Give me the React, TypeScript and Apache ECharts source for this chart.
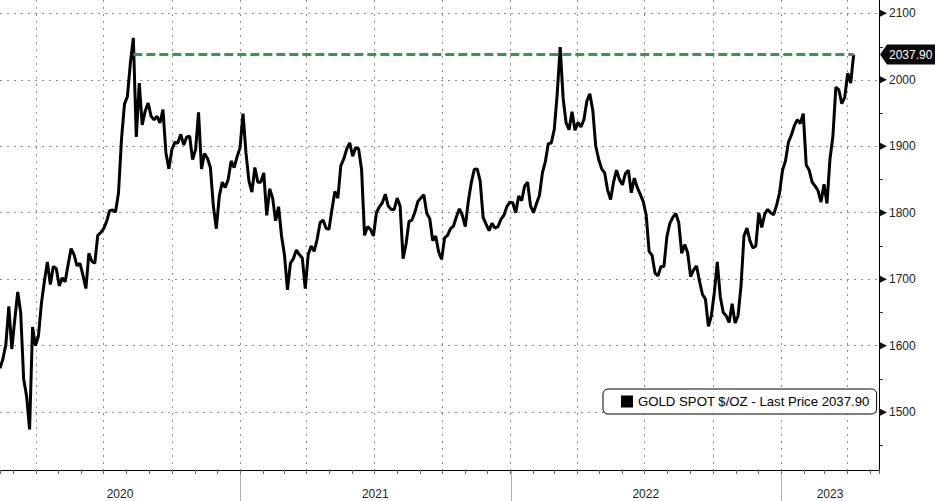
import React, { useEffect, useRef } from 'react';
import * as echarts from 'echarts';

const SERIES_NAME = 'GOLD SPOT $/OZ - Last Price 2037.90';
const LAST_LABEL = '2037.90';
const LAST_PRICE = 2037.9;
const START_DATE = Date.UTC(2020, 1, 12);
const STEP_DAYS = 4;
const DAY = 86400000;

// Gold spot, one reading every 4 days from 2020-02-12
const prices = [
  1566, 1580, 1602, 1659, 1595, 1639, 1681, 1650, 1550, 1524,
  1474, 1628, 1600, 1615, 1664, 1697, 1726, 1692, 1719, 1716,
  1690, 1702, 1696, 1722, 1746, 1737, 1720, 1724, 1706, 1686,
  1739, 1727, 1724, 1766, 1770, 1776, 1787, 1803, 1804, 1801,
  1830, 1910, 1963, 1975, 2025, 2063, 1914, 1995, 1932, 1953,
  1965, 1945, 1940, 1945, 1935, 1955, 1890, 1866, 1895, 1906,
  1905, 1918, 1902, 1914, 1915, 1880, 1895, 1951, 1866, 1889,
  1882, 1868, 1810, 1776, 1825, 1846, 1838, 1850, 1878, 1868,
  1884, 1898, 1949, 1890, 1848, 1831, 1868, 1846, 1846, 1860,
  1796, 1836, 1822, 1788, 1809, 1765, 1736, 1684, 1724, 1731,
  1744, 1737, 1732, 1686, 1737, 1750, 1742, 1760, 1785, 1789,
  1777, 1775, 1805, 1832, 1822, 1871, 1881, 1896, 1905, 1885,
  1898, 1896, 1865, 1766, 1779, 1775, 1765, 1800, 1809, 1815,
  1828, 1810, 1805, 1805, 1822, 1810, 1731, 1753, 1787, 1789,
  1801, 1817, 1822, 1827, 1799, 1791, 1758, 1765, 1741, 1730,
  1762, 1766, 1776, 1780, 1794, 1806, 1796, 1779, 1817, 1845,
  1865, 1866, 1848, 1793, 1783, 1773, 1784, 1777, 1779, 1790,
  1796, 1809, 1816, 1815, 1800, 1825, 1818, 1840, 1846, 1810,
  1800, 1814, 1826, 1860, 1877, 1904, 1905, 1925, 1979, 2049,
  1972, 1935, 1925, 1952, 1924, 1936, 1929, 1940, 1968, 1979,
  1954, 1900, 1880, 1866, 1860, 1834, 1820, 1846, 1864, 1850,
  1842, 1859, 1864, 1830, 1852, 1838, 1828, 1817, 1797, 1742,
  1736, 1709, 1705, 1719, 1719, 1764, 1784, 1793, 1799, 1785,
  1739, 1752, 1740, 1704, 1714, 1720, 1697, 1677, 1670, 1629,
  1645, 1680, 1726, 1674, 1650, 1645, 1635, 1663, 1634, 1645,
  1690, 1765, 1777, 1758, 1747, 1750, 1800, 1778, 1798, 1805,
  1800, 1797, 1811, 1830, 1864, 1878, 1906, 1917, 1931, 1940,
  1934, 1949, 1872, 1864, 1846, 1840, 1833, 1816, 1843, 1814,
  1880, 1915, 1989, 1985, 1964, 1974, 2010, 1995, 2037.9,
];

const yearLabels = ['2020', '2021', '2022', '2023'];
const yMajorTicks = [1500, 1600, 1700, 1800, 1900, 2000, 2100];
const yMinorTicks = [1450, 1550, 1650, 1750, 1850, 1950, 2050];

const X_MIN = Date.UTC(2020, 1, 12, 2);
const X_MAX = Date.UTC(2023, 4, 13, 5);
const Y_MIN = 1413;
const Y_MAX = 2120;

const AXIS_FONT = '"Liberation Sans", Arial, sans-serif';

export default function App() {
  const ref = useRef<HTMLDivElement>(null);

  useEffect(() => {
    const el = ref.current as HTMLDivElement;
    const chart = echarts.init(el, null, { renderer: 'svg' });
    const data = prices.map((v, i) => [START_DATE + i * STEP_DAYS * DAY, v]);
    const peakIdx = prices.indexOf(Math.max(...prices));
    const dotted = { color: '#8c8c8c', width: 1, type: [2, 5] };

    chart.setOption({
      animation: false,
      useUTC: true,
      backgroundColor: '#fff',
      grid: { left: 0, right: 56, top: 0, bottom: 31 },
      legend: {
        left: 603,
        top: 389,
        data: [{ name: SERIES_NAME, icon: 'rect' }],
        itemWidth: 12,
        itemHeight: 12,
        padding: [6, 7, 6, 18],
        borderColor: '#000',
        borderWidth: 1,
        borderRadius: 5,
        backgroundColor: '#fff',
        selectedMode: false,
        textStyle: { fontFamily: AXIS_FONT, fontSize: 13.2, color: '#000' },
      },
      xAxis: [
        {
          type: 'time',
          min: X_MIN,
          max: X_MAX,
          minInterval: 30 * DAY,
          maxInterval: 30 * DAY,
          axisLine: { show: true, lineStyle: { color: '#000', width: 1 } },
          axisTick: { show: true, length: 4, lineStyle: { color: '#666' } },
          axisLabel: { show: false },
          splitLine: { show: false },
        },
        {
          type: 'time',
          min: X_MIN,
          max: X_MAX,
          minInterval: 91 * DAY,
          maxInterval: 91 * DAY,
          axisLine: { show: false },
          axisTick: { show: false },
          axisLabel: { show: false },
          splitLine: { show: true, showMinLine: false, showMaxLine: false, lineStyle: dotted },
        },
      ],
      yAxis: {
        type: 'value',
        position: 'right',
        min: Y_MIN,
        max: Y_MAX,
        splitNumber: 7,
        axisLine: { show: true, lineStyle: { color: '#000', width: 1 } },
        axisTick: { show: false },
        axisLabel: {
          show: true,
          showMinLabel: false,
          showMaxLabel: false,
          margin: 10,
          color: '#222',
          fontFamily: AXIS_FONT,
          fontSize: 12,
          formatter: (v: number) => (yMajorTicks.indexOf(v) >= 0 ? String(v) : ''),
        },
        splitLine: { show: true, showMinLine: false, showMaxLine: false, lineStyle: dotted },
      },
      series: [
        {
          name: SERIES_NAME,
          type: 'line',
          xAxisIndex: 0,
          yAxisIndex: 0,
          data,
          showSymbol: false,
          symbol: 'none',
          color: '#000',
          lineStyle: { color: '#000', width: 3 },
          z: 3,
          markLine: {
            silent: true,
            symbol: ['none', 'none'],
            label: { show: false },
            lineStyle: { color: '#2f9e3f', width: 3, type: [9, 4] },
            data: [
              [
                { coord: [data[peakIdx][0], LAST_PRICE] },
                { coord: [data[data.length - 1][0], LAST_PRICE] },
              ],
            ],
          },
        },
      ],
    });

    const toX = (t: number) => chart.convertToPixel({ xAxisIndex: 0 }, t) as number;
    const toY = (v: number) => chart.convertToPixel({ yAxisIndex: 0 }, v) as number;
    const xRight = toX(X_MAX);
    const yBottom = toY(Y_MIN);
    const H = el.clientHeight;
    const W = el.clientWidth;

    const elements: any[] = [];

    // year labels centred on the visible span of each year, with separators
    yearLabels.forEach((label) => {
      const yr = Number(label);
      const s = Math.max(X_MIN, Date.UTC(yr, 0, 1));
      const e = Math.min(X_MAX, Date.UTC(yr + 1, 0, 1));
      const cx = (toX(s) + toX(e)) / 2;
      elements.push({
        type: 'text',
        silent: true,
        x: cx,
        y: yBottom + 24,
        style: {
          text: label,
          fill: '#222',
          font: `12px ${AXIS_FONT}`,
          textAlign: 'center',
          textVerticalAlign: 'middle',
        },
      });
      const b = Date.UTC(yr, 0, 1);
      if (b > X_MIN && b < X_MAX) {
        const bx = Math.round(toX(b)) + 0.5;
        elements.push({
          type: 'line',
          silent: true,
          shape: { x1: bx, y1: yBottom, x2: bx, y2: H },
          style: { stroke: '#b0b0b0', lineWidth: 1 },
        });
      }
    });

    // y major ticks: small triangles; minor ticks: short dashes
    yMajorTicks.forEach((v) => {
      const y = toY(v);
      elements.push({
        type: 'polygon',
        silent: true,
        shape: { points: [[xRight, y - 4], [xRight + 8, y], [xRight, y + 4]] },
        style: { fill: '#111' },
      });
    });
    yMinorTicks.forEach((v) => {
      const y = Math.round(toY(v)) + 0.5;
      elements.push({
        type: 'line',
        silent: true,
        shape: { x1: xRight, y1: y, x2: xRight + 4, y2: y },
        style: { stroke: '#333', lineWidth: 1 },
      });
    });

    // last price tag
    const yl = toY(LAST_PRICE);
    elements.push({
      type: 'polygon',
      silent: true,
      shape: {
        points: [
          [xRight + 1, yl],
          [xRight + 8, yl - 10],
          [W, yl - 10],
          [W, yl + 10],
          [xRight + 8, yl + 10],
        ],
      },
      style: { fill: '#0a0a0a' },
    });
    elements.push({
      type: 'text',
      silent: true,
      x: xRight + 10,
      y: yl,
      style: {
        text: LAST_LABEL,
        fill: '#fff',
        font: `12px ${AXIS_FONT}`,
        textVerticalAlign: 'middle',
      },
    });

    // expand icon inside legend box
    elements.push({
      type: 'group',
      silent: true,
      z: 100,
      children: [
        {
          type: 'rect',
          shape: { x: 611.5, y: 399.5, width: 6, height: 6 },
          style: { fill: '#fff', stroke: '#777', lineWidth: 1 },
        },
        {
          type: 'line',
          shape: { x1: 612.5, y1: 402.5, x2: 616.5, y2: 402.5 },
          style: { stroke: '#555', lineWidth: 1 },
        },
        {
          type: 'line',
          shape: { x1: 614.5, y1: 400.5, x2: 614.5, y2: 404.5 },
          style: { stroke: '#555', lineWidth: 1 },
        },
      ],
    });

    chart.setOption({ graphic: { elements } });

    return () => chart.dispose();
  }, []);

  return (
    <div
      ref={ref}
      style={{ position: 'fixed', left: 0, top: 0, width: 935, height: 501, background: '#fff' }}
    />
  );
}
